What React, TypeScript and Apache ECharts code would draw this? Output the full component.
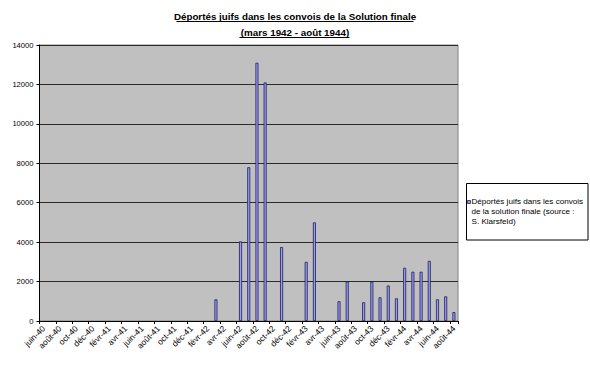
import React, { useEffect, useRef } from "react";
import * as echarts from "echarts";

const FONT = "Arial, 'Liberation Sans', sans-serif";

const titleLines = [
  "Déportés juifs dans les convois de la Solution finale",
  "(mars 1942 - août 1944)",
];

const seriesName = "Déportés juifs dans les convois de la solution finale (source : S. Klarsfeld)";
const legendLines = [
  "Déportés juifs dans les convois",
  "de la solution finale (source :",
  "S. Klarsfeld)",
];

const months = [
  "juin-40", "juil-40", "août-40", "sept-40", "oct-40", "nov-40", "déc-40",
  "janv-41", "févr-41", "mars-41", "avr-41", "mai-41", "juin-41", "juil-41", "août-41", "sept-41", "oct-41", "nov-41", "déc-41",
  "janv-42", "févr-42", "mars-42", "avr-42", "mai-42", "juin-42", "juil-42", "août-42", "sept-42", "oct-42", "nov-42", "déc-42",
  "janv-43", "févr-43", "mars-43", "avr-43", "mai-43", "juin-43", "juil-43", "août-43", "sept-43", "oct-43", "nov-43", "déc-43",
  "janv-44", "févr-44", "mars-44", "avr-44", "mai-44", "juin-44", "juil-44", "août-44",
];

const deportes = [
  0, 0, 0, 0, 0, 0, 0,
  0, 0, 0, 0, 0, 0, 0, 0, 0, 0, 0, 0,
  0, 0, 1100, 0, 0, 4040, 7800, 13100, 12100, 0, 3750, 0,
  0, 3000, 5000, 0, 0, 1000, 2000, 0, 950, 2000, 1200, 1800,
  1150, 2700, 2500, 2500, 3050, 1100, 1250, 450,
];

const yMin = 0;
const yMax = 14000;
const yStep = 2000;

export default function App() {
  const ref = useRef<HTMLDivElement>(null);

  useEffect(() => {
    if (!ref.current) return;
    const chart = echarts.init(ref.current, undefined, { renderer: "svg" });
    chart.setOption({
      animation: false,
      backgroundColor: "#ffffff",
      title: {
        text: titleLines.join("\n"),
        left: "center",
        top: 8.5,
        padding: 0,
        textStyle: {
          fontFamily: FONT,
          fontSize: 9.8,
          fontWeight: "bold",
          color: "#000",
          lineHeight: 16,
        },
      },
      grid: {
        left: 39.5,
        right: 132,
        top: 45,
        bottom: 46,
        show: true,
        backgroundColor: "#c0c0c0",
        borderColor: "#808080",
        borderWidth: 1,
      },
      xAxis: {
        type: "category",
        data: months,
        boundaryGap: true,
        axisLine: { lineStyle: { color: "#000", width: 1 } },
        axisTick: {
          show: true,
          interval: 1,
          length: 3,
          lineStyle: { color: "#000" },
        },
        axisLabel: {
          interval: 1,
          rotate: 45,
          margin: 6,
          fontFamily: FONT,
          fontSize: 8.4,
          color: "#000",
        },
      },
      yAxis: {
        type: "value",
        min: yMin,
        max: yMax,
        interval: yStep,
        axisLine: { show: true, lineStyle: { color: "#000", width: 1 } },
        axisTick: { show: true, length: 3, lineStyle: { color: "#000" } },
        axisLabel: {
          margin: 6,
          fontFamily: FONT,
          fontSize: 7.6,
          color: "#000",
          formatter: (v: number) => String(v),
        },
        splitLine: { show: true, lineStyle: { color: "#2a2a2a", width: 1 } },
      },
      series: [
        {
          name: seriesName,
          type: "bar",
          data: deportes.map((v) => (v === 0 ? null : v)),
          barWidth: 3,
          itemStyle: {
            color: "#9999ff",
            borderColor: "#202050",
            borderWidth: 0.8,
          },
        },
      ],
      graphic: [
        { type: "line", shape: { x1: 176.5, y1: 21.5, x2: 413.5, y2: 21.5 }, style: { stroke: "#000", lineWidth: 1 } },
        { type: "line", shape: { x1: 239.5, y1: 37.5, x2: 349.5, y2: 37.5 }, style: { stroke: "#000", lineWidth: 1 } },
        {
          type: "rect",
          shape: { x: 466.5, y: 183.5, width: 121.5, height: 56.5 },
          style: { fill: "#fff", stroke: "#000", lineWidth: 1 },
        },
        {
          type: "rect",
          shape: { x: 467.5, y: 200.5, width: 3, height: 3 },
          style: { fill: "#9999ff", stroke: "#202050", lineWidth: 0.8 },
        },
        {
          type: "text",
          x: 471.5,
          y: 197,
          style: {
            text: legendLines.join("\n"),
            fontFamily: FONT,
            fontSize: 8.1,
            lineHeight: 9.8,
            fill: "#000",
          },
        },
      ],
    });
    return () => chart.dispose();
  }, []);

  return (
    <div
      ref={ref}
      style={{ position: "fixed", left: 0, top: 0, width: 590, height: 367 }}
    />
  );
}
